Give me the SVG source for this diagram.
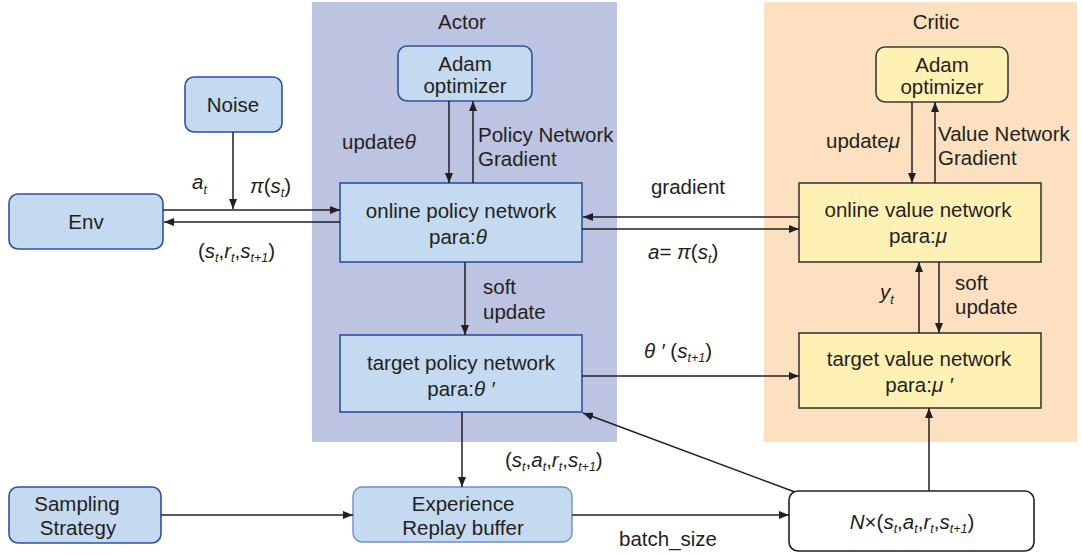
<svg xmlns="http://www.w3.org/2000/svg" width="1082" height="555" viewBox="0 0 1082 555">
  <defs>
    <marker id="arr" viewBox="0 0 10 8" refX="10" refY="4" markerWidth="10" markerHeight="8" markerUnits="userSpaceOnUse" orient="auto">
      <path d="M0,0 L10,4 L0,8 Z" fill="#231f20"/>
    </marker>
    <style>
      text { font-family: "Liberation Sans", Arial, sans-serif; font-size: 20.5px; fill: #231f20; }
      .c { text-anchor: middle; }
      .i { font-style: italic; }
      .sub { font-style: italic; font-size: 12.5px; }
      .blue { fill: #c3daf0; stroke: #2e50a0; stroke-width: 1.6; }
      .blue2 { fill: #c3daf0; stroke: #6f8fc8; stroke-width: 1.4; }
      .yel { fill: #fff1b4; stroke: #3a3a3a; stroke-width: 1.6; }
      .wht { fill: #ffffff; stroke: #231f20; stroke-width: 1.6; }
      .ar { stroke: #231f20; stroke-width: 1.5; fill: none; marker-end: url(#arr); }
    </style>
  </defs>

  <!-- panels -->
  <rect id="actor-panel" x="312" y="2" width="305" height="440" fill="#bdc4e1"/>
  <rect id="critic-panel" x="764" y="2" width="313" height="440" fill="#fde0c0"/>
  <text class="c" x="462" y="29">Actor</text>
  <text class="c" x="936" y="29">Critic</text>

  <!-- nodes -->
  <g id="env">
    <rect class="blue" x="9" y="194" width="154" height="55" rx="9"/>
    <text class="c" x="86" y="229">Env</text>
  </g>
  <g id="noise">
    <rect class="blue" x="185" y="77" width="97" height="55" rx="9"/>
    <text class="c" x="233" y="112">Noise</text>
  </g>
  <g id="actor-adam">
    <rect class="blue" x="398" y="46" width="134" height="55" rx="9"/>
    <text class="c" x="465" y="71">Adam</text>
    <text class="c" x="465" y="93">optimizer</text>
  </g>
  <g id="online-policy">
    <rect class="blue" x="340" y="183" width="242" height="79"/>
    <text class="c" x="461" y="218">online policy network</text>
    <text class="c" x="458" y="244">para:<tspan class="i">θ</tspan></text>
  </g>
  <g id="target-policy">
    <rect class="blue" x="340" y="335" width="242" height="77"/>
    <text class="c" x="461" y="370">target policy network</text>
    <text class="c" x="461" y="396">para:<tspan class="i">θ ′</tspan></text>
  </g>
  <g id="critic-adam">
    <rect class="yel" x="876" y="47" width="132" height="55" rx="9"/>
    <text class="c" x="942" y="72">Adam</text>
    <text class="c" x="942" y="94">optimizer</text>
  </g>
  <g id="online-value">
    <rect class="yel" x="799" y="183" width="242" height="79"/>
    <text class="c" x="918" y="217">online value network</text>
    <text class="c" x="918" y="243">para:<tspan class="i">μ</tspan></text>
  </g>
  <g id="target-value">
    <rect class="yel" x="799" y="333" width="242" height="75"/>
    <text class="c" x="919" y="366">target value network</text>
    <text class="c" x="919" y="392">para:<tspan class="i">μ ′</tspan></text>
  </g>
  <g id="sampling">
    <rect class="blue" x="9" y="487" width="152" height="56" rx="9"/>
    <text class="c" x="77" y="511">Sampling</text>
    <text class="c" x="78" y="535">Strategy</text>
  </g>
  <g id="replay">
    <rect class="blue2" x="353" y="487" width="219" height="55" rx="9"/>
    <text class="c" x="463" y="511">Experience</text>
    <text class="c" x="463" y="535">Replay buffer</text>
  </g>
  <g id="batch">
    <rect class="wht" x="789" y="491" width="245" height="60" rx="9"/>
    <text class="c" x="912" y="529"><tspan class="i">N</tspan>×(<tspan class="i">s</tspan><tspan class="sub" dy="4">t</tspan><tspan dy="-4">,</tspan><tspan class="i">a</tspan><tspan class="sub" dy="4">t</tspan><tspan dy="-4">,</tspan><tspan class="i">r</tspan><tspan class="sub" dy="4">t</tspan><tspan dy="-4">,</tspan><tspan class="i">s</tspan><tspan class="sub" dy="4">t+1</tspan><tspan dy="-4">)</tspan></text>
  </g>

  <!-- connectors -->
  <g id="connectors">
    <line class="ar" x1="163" y1="210" x2="340" y2="210"/>
    <line class="ar" x1="340" y1="222" x2="164" y2="222"/>
    <line class="ar" x1="233" y1="132" x2="233" y2="209"/>
    <line class="ar" x1="449" y1="101" x2="449" y2="183"/>
    <line class="ar" x1="473" y1="183" x2="473" y2="101"/>
    <line class="ar" x1="799" y1="217" x2="583" y2="217"/>
    <line class="ar" x1="582" y1="229" x2="799" y2="229"/>
    <line class="ar" x1="465" y1="262" x2="465" y2="335"/>
    <line class="ar" x1="582" y1="376" x2="799" y2="376"/>
    <line class="ar" x1="462" y1="412" x2="462" y2="487"/>
    <line class="ar" x1="161" y1="515" x2="353" y2="515"/>
    <line class="ar" x1="572" y1="515" x2="789" y2="515"/>
    <line class="ar" x1="795" y1="492" x2="583" y2="413"/>
    <line class="ar" x1="929" y1="491" x2="929" y2="408"/>
    <line class="ar" x1="919" y1="333" x2="919" y2="262"/>
    <line class="ar" x1="939" y1="262" x2="939" y2="333"/>
    <line class="ar" x1="912" y1="102" x2="912" y2="183"/>
    <line class="ar" x1="935" y1="183" x2="935" y2="102"/>
  </g>

  <!-- connector labels -->
  <text x="192" y="189"><tspan class="i">a</tspan><tspan class="sub" dy="5">t</tspan></text>
  <text x="250" y="193"><tspan class="i">π</tspan>(<tspan class="i">s</tspan><tspan class="sub" dy="4">t</tspan><tspan dy="-4">)</tspan></text>
  <text x="198" y="258">(<tspan class="i">s</tspan><tspan class="sub" dy="4">t</tspan><tspan dy="-4">,</tspan><tspan class="i">r</tspan><tspan class="sub" dy="4">t</tspan><tspan dy="-4">,</tspan><tspan class="i">s</tspan><tspan class="sub" dy="4">t+1</tspan><tspan dy="-4">)</tspan></text>
  <text x="342" y="149">update<tspan class="i">θ</tspan></text>
  <text x="478" y="142">Policy Network</text>
  <text x="478" y="166">Gradient</text>
  <text x="826" y="148">update<tspan class="i">μ</tspan></text>
  <text x="938" y="141">Value Network</text>
  <text x="938" y="165">Gradient</text>
  <text class="c" x="688" y="194">gradient</text>
  <text x="648" y="259"><tspan class="i">a</tspan>= <tspan class="i">π</tspan>(<tspan class="i">s</tspan><tspan class="sub" dy="4">t</tspan><tspan dy="-4">)</tspan></text>
  <text x="483" y="294">soft</text>
  <text x="483" y="319">update</text>
  <text x="644" y="358"><tspan class="i">θ ′</tspan> (<tspan class="i">s</tspan><tspan class="sub" dy="4">t+1</tspan><tspan dy="-4">)</tspan></text>
  <text x="880" y="299"><tspan class="i">y</tspan><tspan class="sub" dy="5">t</tspan></text>
  <text x="955" y="290">soft</text>
  <text x="955" y="314">update</text>
  <text x="505" y="467">(<tspan class="i">s</tspan><tspan class="sub" dy="4">t</tspan><tspan dy="-4">,</tspan><tspan class="i">a</tspan><tspan class="sub" dy="4">t</tspan><tspan dy="-4">,</tspan><tspan class="i">r</tspan><tspan class="sub" dy="4">t</tspan><tspan dy="-4">,</tspan><tspan class="i">s</tspan><tspan class="sub" dy="4">t+1</tspan><tspan dy="-4">)</tspan></text>
  <text x="619" y="546">batch_size</text>
</svg>
